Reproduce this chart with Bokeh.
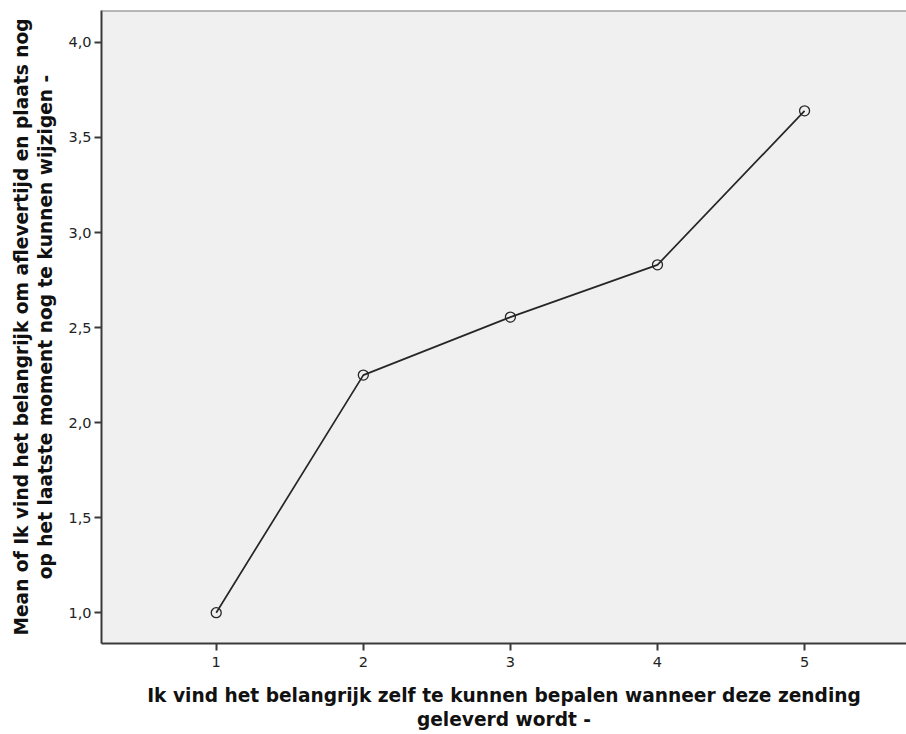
from bokeh.plotting import figure
from bokeh.models import Range1d, FixedTicker, Span
from bokeh.embed import file_html
from bokeh.resources import INLINE

# Mean of the second item for each answer to the first item
categories = [1, 2, 3, 4, 5]
means = [1.00, 2.25, 2.555, 2.83, 3.64]

x_ticks = [1, 2, 3, 4, 5]
x_tick_labels = ["1", "2", "3", "4", "5"]
y_ticks = [1.0, 1.5, 2.0, 2.5, 3.0, 3.5, 4.0]
y_tick_labels = ["1,0", "1,5", "2,0", "2,5", "3,0", "3,5", "4,0"]

x_title = "Ik vind het belangrijk zelf te kunnen bepalen wanneer deze zending\ngeleverd wordt -"
y_title = ("Mean of Ik vind het belangrijk om aflevertijd en plaats nog\n"
           "op het laatste moment nog te kunnen wijzigen -")

p = figure(width=906, height=734, output_backend="svg", toolbar_location=None,
           x_range=Range1d(0.22, 5.693), y_range=Range1d(0.838, 4.168),
           min_border_left=101, min_border_right=0, min_border_top=10,
           min_border_bottom=91)

p.background_fill_color = "#f0f0f0"
p.border_fill_color = "white"
p.outline_line_color = None
p.grid.visible = False

# frame top edge
p.add_layout(Span(location=4.168, dimension="width", line_color="#7a7a7a", line_width=2))

p.line(categories, means, line_color="#262626", line_width=1.7)
p.scatter(categories, means, marker="circle", size=10, fill_color=None,
          line_color="#262626", line_width=1.3)

for ax in (p.xaxis[0], p.yaxis[0]):
    ax.axis_line_color = "#3a3a3a"
    ax.axis_line_width = 2
    ax.major_tick_line_color = "#3a3a3a"
    ax.major_tick_line_width = 2
    ax.major_tick_out = 7
    ax.major_tick_in = 0
    ax.minor_tick_line_color = None
    ax.major_label_text_font = "DejaVu Sans"
    ax.major_label_text_font_size = "14.5px"
    ax.major_label_text_color = "#222222"
    ax.axis_label_text_font = "DejaVu Sans"
    ax.axis_label_text_font_style = "bold"
    ax.axis_label_text_font_size = "18.6px"
    ax.axis_label_text_color = "#111111"
    ax.axis_label_text_line_height = 1.15

p.xaxis.ticker = FixedTicker(ticks=x_ticks)
p.xaxis.major_label_overrides = dict(zip(x_ticks, x_tick_labels))
p.yaxis.ticker = FixedTicker(ticks=y_ticks)
p.yaxis.major_label_overrides = dict(zip(y_ticks, y_tick_labels))

p.xaxis.axis_label = x_title
p.yaxis.axis_label = y_title
p.xaxis.major_label_standoff = 6
p.yaxis.major_label_standoff = 3
p.xaxis.axis_label_standoff = 15
p.yaxis.axis_label_standoff = 9

open("out.html", "w").write(file_html(p, INLINE))
